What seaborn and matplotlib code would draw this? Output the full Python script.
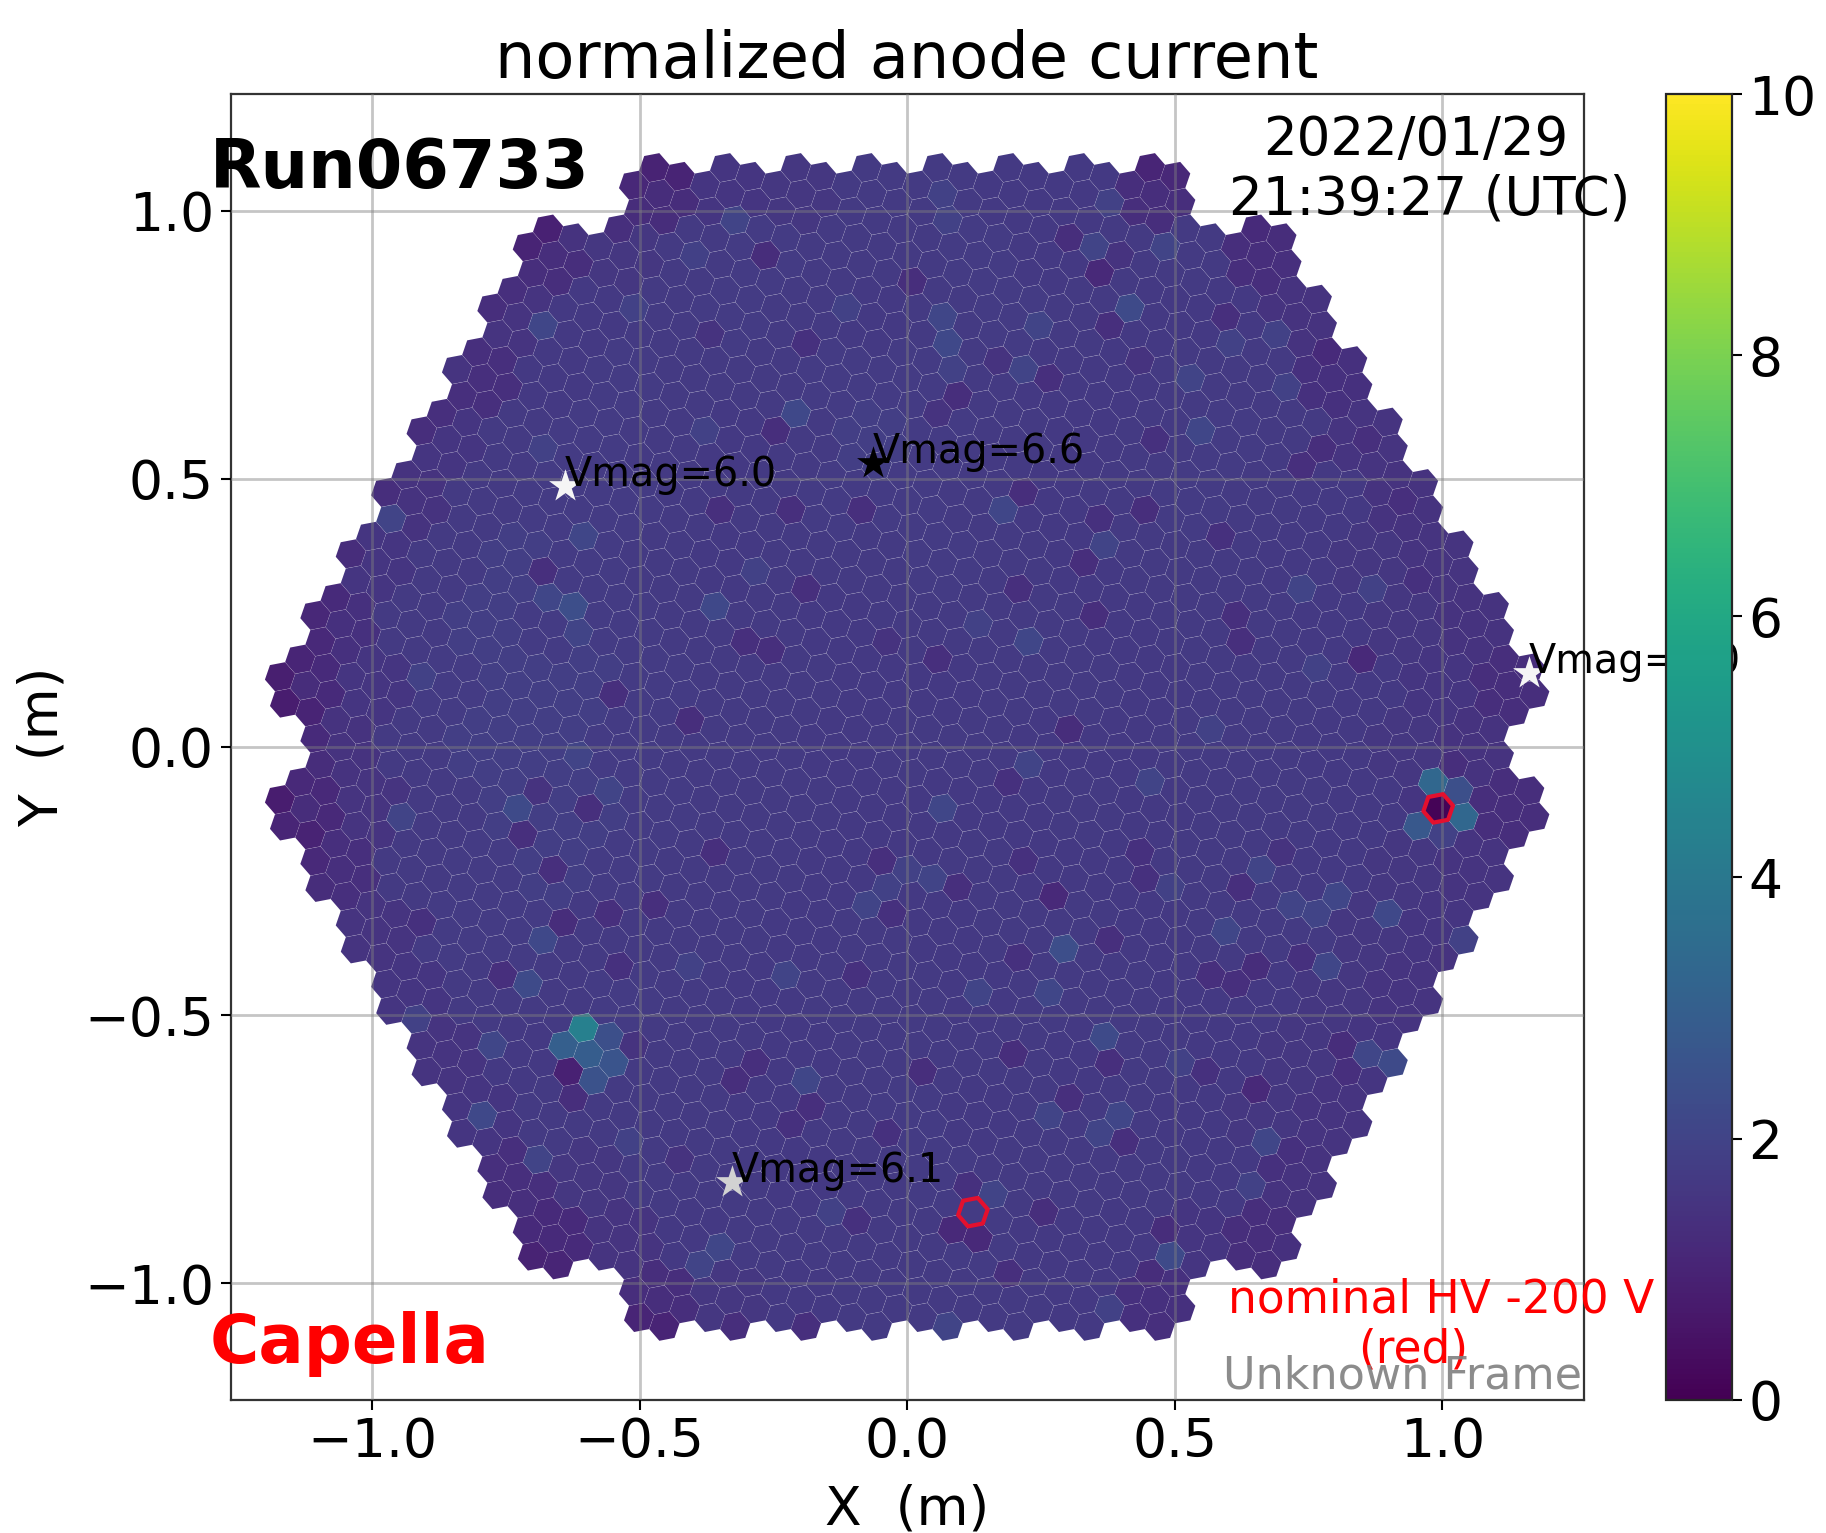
# Camera map of normalized anode current, LST style 1855 pixel camera
import numpy as np
import pandas as pd
import seaborn as sns
import matplotlib
matplotlib.use("Agg")
import matplotlib.pyplot as plt
from matplotlib.cm import ScalarMappable
from matplotlib.colors import Normalize
from matplotlib.markers import MarkerStyle
from matplotlib.transforms import Affine2D

module_rows = [
    [1.25, 1.55, 1.6, 1.7, 1.7, 1.65, 1.65, 1.3],
    [1.3, 1.6, 1.7, 1.75, 1.7, 1.7, 1.75, 1.65, 1.7, 1.7, 1.3],
    [1.5, 1.65, 1.7, 1.75, 1.7, 1.65, 1.7, 1.75, 1.7, 1.65, 1.65, 1.45],
    [1.35, 1.65, 1.75, 1.7, 1.7, 1.75, 1.75, 1.7, 1.65, 1.65, 1.7, 1.7, 1.4],
    [1.55, 1.7, 1.75, 1.7, 1.65, 1.7, 1.8, 1.75, 1.7, 1.65, 1.7, 1.75, 1.7, 1.5],
    [1.45, 1.7, 1.75, 1.75, 1.7, 1.7, 1.75, 1.75, 1.7, 1.65, 1.7, 1.75, 1.7, 1.65, 1.45],
    [1.55, 1.7, 1.8, 1.75, 1.7, 1.65, 1.7, 1.7, 1.75, 1.7, 1.65, 1.7, 1.7, 1.65, 1.6, 1.5],
    [1.4, 1.7, 1.8, 1.75, 1.75, 1.7, 1.7, 1.65, 1.7, 1.7, 1.7, 1.65, 1.7, 1.7, 1.65, 1.6, 1.45],
    [1.2, 1.55, 1.75, 1.8, 1.8, 1.75, 1.7, 1.7, 1.65, 1.65, 1.7, 1.7, 1.65, 1.7, 1.7, 1.65, 1.55, 1.3],
    [1.45, 1.7, 1.8, 1.8, 1.75, 1.7, 1.7, 1.65, 1.7, 1.7, 1.65, 1.65, 1.7, 1.7, 1.65, 1.6, 1.45],
    [1.15, 1.5, 1.7, 1.8, 1.8, 1.75, 1.7, 1.7, 1.65, 1.65, 1.65, 1.7, 1.65, 1.7, 1.7, 1.65, 1.55, 1.3],
    [1.35, 1.7, 1.75, 1.8, 1.75, 1.7, 1.7, 1.65, 1.65, 1.7, 1.65, 1.65, 1.7, 1.7, 1.65, 1.6, 1.5],
    [1.5, 1.75, 1.75, 1.7, 1.7, 1.7, 1.65, 1.7, 1.65, 1.7, 1.7, 1.65, 1.7, 1.7, 1.6, 1.55],
    [1.55, 1.7, 1.7, 1.75, 1.7, 1.65, 1.7, 1.7, 1.65, 1.7, 1.7, 1.65, 1.65, 1.6, 1.5],
    [1.5, 1.65, 1.75, 1.7, 1.7, 1.65, 1.7, 1.7, 1.7, 1.65, 1.7, 1.65, 1.6, 1.55],
    [1.55, 1.7, 1.7, 1.7, 1.65, 1.7, 1.75, 1.65, 1.7, 1.7, 1.65, 1.6, 1.5],
    [1.35, 1.6, 1.7, 1.7, 1.65, 1.7, 1.75, 1.7, 1.7, 1.7, 1.65, 1.45],
    [1.2, 1.5, 1.65, 1.7, 1.7, 1.7, 1.75, 1.65, 1.65, 1.55, 1.3],
    [1.3, 1.6, 1.65, 1.7, 1.7, 1.7, 1.65, 1.4],
]

# Single pixels that stand out from their module: position in metres, current
bright_x = [-0.680, -0.324, -0.209, -0.606, -0.625, -0.671, -0.358, -0.614, -0.114, -0.381,
            -0.679, -0.965, -0.282, -0.907, -0.515, -0.396, 0.076, 0.415, 0.350, 0.480,
            0.068, 0.076, 0.243, 0.087, 0.217, 0.530, 0.549, 0.602, 0.690, 0.709,
            0.179, 0.224, 0.133, 0.369, 0.739, 0.869, 0.377, 0.064, 0.766, 0.549,
            -0.774, -0.728, -0.946, -0.557, -0.682, -0.709, -0.793, -0.412, -0.228, -0.690,
            -0.351, -0.389, -0.144, -0.190, -0.076, -0.038, -0.614, -0.915, -0.526, 0.453,
            0.064, 0.224, 0.045, 0.293, 0.262, 0.129, 0.369, 0.510, 0.262, 0.396,
            0.354, 0.671, 0.862, 0.907, 0.659, 0.717, 0.766, 0.800, 0.896, 0.595,
            0.781, 0.484, 0.163, 0.640, 0.377, 0.003, 0.488, 0.072, 1.041]
bright_y = [0.786, 0.982, 0.623, 0.393, 0.265, 0.279, 0.265, 0.215, 0.822, 0.593,
            0.557, 0.429, 0.332, 0.136, 0.822, 0.921, 0.979, 0.818, 0.936, 0.936,
            0.804, 0.754, 0.789, 0.707, 0.707, 0.689, 0.590, 0.754, 0.772, 0.679,
            0.440, 0.197, 0.233, 0.379, 0.297, 0.297, 1.018, 1.036, 0.154, 0.022,
            -0.553, -0.114, -0.128, -0.078, -0.356, -0.439, -0.685, -0.403, -0.424, -0.763,
            -0.931, -0.960, -0.863, -0.617, -0.292, -0.260, -0.017, -0.503, -0.731, -0.064,
            -0.114, -0.028, -0.242, -0.374, -0.456, -0.453, -0.535, -0.585, -0.685, -0.685,
            -0.717, -0.735, -0.567, -0.585, -0.228, -0.292, -0.306, -0.274, -0.306, -0.342,
            -0.406, -0.945, -0.828, -0.817, -1.042, -0.246, -0.260, -1.074, -0.360]
bright_val = [2.1, 2.0, 2.15, 2.1, 2.35, 2.1, 2.15, 2.0, 1.95, 1.95,
              1.95, 2.0, 1.95, 1.95, 1.95, 1.9, 1.95, 2.25, 2.0, 2.0,
              2.1, 2.15, 2.0, 1.95, 2.0, 2.0, 2.1, 1.95, 1.95, 1.95,
              2.1, 2.1, 1.95, 2.0, 2.0, 1.95, 1.95, 1.95, 1.95, 1.95,
              2.1, 2.25, 2.0, 2.0, 2.15, 2.25, 2.15, 1.95, 2.0, 2.0,
              2.1, 2.0, 1.95, 2.1, 2.0, 1.95, 2.0, 1.95, 1.95, 2.0,
              2.1, 2.0, 2.0, 2.35, 2.1, 2.0, 2.25, 1.95, 2.0, 2.1,
              2.0, 2.1, 2.1, 2.25, 2.0, 2.0, 2.0, 2.1, 2.15, 2.1,
              2.1, 2.25, 2.0, 1.95, 1.95, 1.95, 1.95, 2.0, 1.95]

dim_x = [-0.709, -0.671, -0.625, -0.515, -0.473, -0.427, -0.701, -0.740, -0.778, -0.541,
         -0.267, -0.247, -0.373, -0.190, -0.682, -0.549, -0.408, -0.350, -0.221, -0.087,
         -0.190, -0.305, -0.255, -0.038, -0.907, -0.869, -0.972, -1.041, -1.067, -1.107,
         -1.098, -1.136, -1.171, -1.163, -1.113, -1.106, -0.843, -1.117,
         0.453, 0.501, 0.514, 0.652, 0.698, 0.709, 0.305, 0.358, 0.396, 0.011,
         0.377, 0.595, 0.167, 0.434, 0.262, 0.785, 0.797, 0.091, 0.056, 0.774,
         0.858, 0.736, 0.217, 0.442, 0.358, 0.926, 0.327, 0.583, 0.350, 0.613,
         0.625, 0.850, 0.209, 0.056, 0.301, 0.953, 0.461,
         -1.170, -1.163, -1.117, -1.136, -1.098, -1.125, -1.106, -1.098, -0.690, -0.595,
         -0.720, -0.663, -0.644, -0.557, -0.907, -0.759, -0.541, -0.515, -0.358, -0.473,
         -0.324, -0.286, -0.179, -0.221, -0.053, -0.030, -0.095, -0.427, -0.038, -0.095,
         -0.770, -0.709, -0.702, -0.656, -0.778, -0.503, -0.457, -0.324, -0.190,
         0.274, 0.186, 0.091, 0.434, 0.442, 0.217, 0.701, 0.625, 0.377, 0.209,
         0.652, 0.568, 0.613, 0.751, 0.198, 0.026, 0.812, 0.823, 0.652, 0.557,
         0.301, 0.377, 0.408, 0.720, 0.679, 0.255, 0.083, 0.133, 0.114, 0.476,
         0.453, 0.186, 0.709, 1.003, 0.469, 1.159, 1.170]
dim_y = [0.936, 0.968, 0.954, 1.047, 1.082, 1.066, 0.886, 0.854, 0.820, 0.968,
         0.918, 0.590, 0.772, 0.754, 0.329, 0.100, 0.050, 0.443, 0.443, 0.443,
         0.297, 0.197, 0.183, 0.197, 0.590, 0.629, 0.475, 0.365, 0.283, 0.250,
         0.200, 0.168, 0.136, 0.086, 0.068, 0.018, 0.707, 0.115,
         1.082, 1.064, 1.022, 0.968, 0.950, 0.900, 0.950, 0.886, 0.918, 0.868,
         0.786, 0.804, 0.722, 0.722, 0.689, 0.740, 0.689, 0.654, 0.622, 0.557,
         0.575, 0.525, 0.475, 0.440, 0.425, 0.457, 0.343, 0.393, 0.247, 0.247,
         0.197, 0.165, 0.293, 0.168, 0.036, 0.315, 0.579,
         -0.096, -0.146, -0.160, -0.060, -0.024, -0.114, -0.214, -0.260, -0.078, -0.110,
         -0.160, -0.224, -0.324, -0.306, -0.324, -0.424, -0.406, -0.549, -0.192, -0.292,
         -0.617, -0.585, -0.667, -0.699, -0.210, -0.306, -0.420, -0.763, -0.717, -0.878,
         -0.831, -0.899, -0.949, -0.963, -0.785, -1.063, -1.077, -1.081, -1.074,
         -0.278, -0.060, -0.260, -0.192, -0.242, -0.210, -0.192, -0.256, -0.356, -0.389,
         -0.406, -0.424, -0.439, -0.389, -0.567, -0.603, -0.553, -0.603, -0.635, -0.603,
         -0.653, -0.585, -0.735, -0.749, -0.781, -0.863, -0.899, -0.917, -0.813, -0.895,
         -0.977, -0.977, -0.927, -0.392, -1.067, -0.081, -0.131]
dim_val = [1.0, 0.9, 1.45, 1.1, 0.95, 1.0, 1.3, 1.35, 1.3, 1.35,
           1.25, 1.3, 1.45, 1.4, 1.35, 1.35, 1.3, 1.35, 1.35, 1.35,
           1.35, 1.35, 1.35, 1.45, 1.3, 1.35, 1.3, 1.25, 1.2, 1.1,
           1.15, 1.05, 0.85, 0.8, 1.0, 1.2, 1.5, 1.25,
           1.05, 1.1, 1.3, 1.2, 1.25, 1.35, 1.3, 1.15, 1.45, 1.3,
           1.35, 1.35, 1.45, 1.45, 1.35, 1.2, 1.4, 1.3, 1.45, 1.3,
           1.35, 1.35, 1.3, 1.3, 1.4, 1.35, 1.3, 1.4, 1.3, 1.35,
           1.35, 1.15, 1.35, 1.35, 1.25, 1.4, 1.4,
           0.8, 1.05, 0.95, 1.15, 1.25, 1.25, 1.15, 1.25, 1.45, 1.35,
           1.35, 1.35, 1.25, 1.35, 1.4, 1.35, 1.4, 1.45, 1.35, 1.35,
           1.3, 1.35, 1.35, 1.4, 1.35, 1.4, 1.4, 1.45, 1.4, 1.4,
           1.3, 1.2, 0.95, 1.05, 1.35, 1.05, 1.0, 1.3, 1.35,
           1.15, 1.4, 1.35, 1.4, 1.4, 1.4, 1.45, 1.35, 1.35, 1.4,
           1.25, 1.35, 1.35, 1.4, 1.3, 1.3, 1.25, 1.35, 1.15, 1.4,
           1.35, 1.35, 1.35, 1.4, 1.4, 1.3, 1.15, 1.15, 1.4, 1.25,
           1.25, 1.35, 1.4, 1.45, 1.35, 1.3, 1.3]

# The star images, brightest pixels of the map
hot_x = [-0.606, -0.644, -0.596, -0.556, -0.549, -0.587, -0.633, -0.625,
         0.995, 0.983, 1.029, 1.041, 0.953, 1.003, 1.022]
hot_y = [-0.522, -0.556, -0.573, -0.538, -0.585, -0.620, -0.603, -0.653,
         -0.112, -0.060, -0.078, -0.128, -0.146, -0.167, -0.032]
hot_val = [4.3, 3.0, 2.9, 2.4, 2.6, 2.5, 0.9, 1.3,
           0.1, 3.3, 2.4, 3.3, 2.7, 1.95, 1.3]

# Pixels at reduced voltage, drawn with a red outline
red_x = [0.995, 0.122]
red_y = [-0.112, -0.865]

star_x = [-0.639, -0.064, 1.161, -0.328]
star_y = [0.4875, 0.529, 0.138, -0.811]
star_mag = ["6.0", "6.6", "6.0", "6.1"]
star_color = ["#f5f5f5", "#000000", "#f5f5f5", "#d2d2d2"]

cbar_ticks = [0, 2, 4, 6, 8, 10]
axis_ticks = [-1.0, -0.5, 0.0, 0.5, 1.0]

# Camera layout: 265 modules of 7 pixels, pixel lattice turned 19.1 deg from the module rows
PITCH = 0.05
ANGLE = -19.107
MOD_DX = PITCH * np.sqrt(7)
MOD_DY = MOD_DX * np.sqrt(3) / 2

petals = [(0.0, 0.0)]
for k in range(6):
    a = np.deg2rad(ANGLE + 60 * k)
    petals.append((PITCH * np.cos(a), PITCH * np.sin(a)))

pix_x, pix_y, pix_val = [], [], []
for r, row in enumerate(module_rows):
    my = (9 - r) * MOD_DY
    for k, val in enumerate(row):
        mx = (k - (len(row) - 1) / 2) * MOD_DX
        for dx, dy in petals:
            pix_x.append(mx + dx)
            pix_y.append(my + dy)
            pix_val.append(val)
pix_x = np.array(pix_x)
pix_y = np.array(pix_y)
pix_val = np.array(pix_val)


def nearest_pixel(x, y):
    return np.argmin((pix_x - x) ** 2 + (pix_y - y) ** 2)


# Put the pixel readings on top of the module values
for xs, ys, vs in [(bright_x, bright_y, bright_val), (dim_x, dim_y, dim_val), (hot_x, hot_y, hot_val)]:
    for x, y, v in zip(xs, ys, vs):
        pix_val[nearest_pixel(x, y)] = v

df = pd.DataFrame({"x": pix_x, "y": pix_y, "current": pix_val})
red_idx = [nearest_pixel(x, y) for x, y in zip(red_x, red_y)]
red_df = df.iloc[red_idx]

sns.set_style("ticks")
plt.rcParams["font.family"] = "DejaVu Sans"
plt.rcParams["text.color"] = "black"
plt.rcParams["axes.labelcolor"] = "black"
plt.rcParams["xtick.color"] = "black"
plt.rcParams["ytick.color"] = "black"

fig = plt.figure(figsize=(18.26, 15.33), dpi=100)
ax = fig.add_axes([0.1263, 0.087, 0.7410, 0.8515])

hexagon = MarkerStyle("h", transform=Affine2D().rotate_deg(ANGLE))
sns.scatterplot(
    data=df, x="x", y="y", hue="current", hue_norm=(0, 10), palette="viridis",
    marker=hexagon, s=491, linewidth=0, edgecolor="none", legend=False, ax=ax, zorder=1,
)
sns.scatterplot(
    data=red_df, x="x", y="y", marker=hexagon, s=470, facecolor="none",
    edgecolor="#e3102e", linewidth=3.0, legend=False, ax=ax, zorder=3,
)

ax.set_xlim(-1.264, 1.264)
ax.set_ylim(-1.217, 1.217)
ax.set_xticks(axis_ticks)
ax.set_yticks(axis_ticks)
ax.set_axisbelow(False)
ax.grid(True, color="#808080", alpha=0.45, linewidth=2)
ax.tick_params(labelsize=38.5, length=7, width=1.5, pad=5)
for s in ax.spines.values():
    s.set_linewidth(1.6)
    s.set_color("#333333")
    s.set_visible(True)

ax.set_title("normalized anode current", fontsize=46, pad=12)
ax.set_xlabel("X  (m)", fontsize=38.5, labelpad=11)
ax.set_ylabel("Y  (m)", fontsize=38.5, labelpad=11)

# Stars with their labels
for x, y, mag, col in zip(star_x, star_y, star_mag, star_color):
    ax.scatter([x], [y], marker="*", s=620, color=col, linewidth=0, zorder=4)
    ax.text(x, y, "Vmag=" + mag, fontsize=28.6, color="black", zorder=5)

ax.text(-1.303, 1.043, "Run06733", fontsize=48.2, fontweight="bold", color="black", zorder=6)
ax.text(-1.303, -1.148, "Capella", fontsize=48.4, fontweight="bold", color="red", zorder=6)
ax.text(0.951, 1.104, "2022/01/29", fontsize=38.2, ha="center", va="baseline", color="black", zorder=6)
ax.text(0.977, 0.993, "21:39:27 (UTC)", fontsize=38.2, ha="center", va="baseline", color="black", zorder=6)
ax.text(0.998, -1.054, "nominal HV -200 V", fontsize=32.8, ha="center", va="baseline",
        color="red", zorder=6)
ax.text(0.9456, -1.148, "(red)", fontsize=32.8, ha="center", va="baseline", color="red", zorder=6)
ax.text(1.26, -1.197, "Unknown Frame", fontsize=32, ha="right", va="baseline",
        color="gray", alpha=0.9, zorder=6)

cax = fig.add_axes([0.9125, 0.087, 0.0358, 0.8515])
cbar = fig.colorbar(ScalarMappable(Normalize(0, 10), "viridis"), cax=cax, ticks=cbar_ticks)
cbar.ax.tick_params(labelsize=38.5, length=7, width=1.5, pad=5)
cbar.outline.set_linewidth(1.6)

fig.savefig("out.png", dpi=100)
